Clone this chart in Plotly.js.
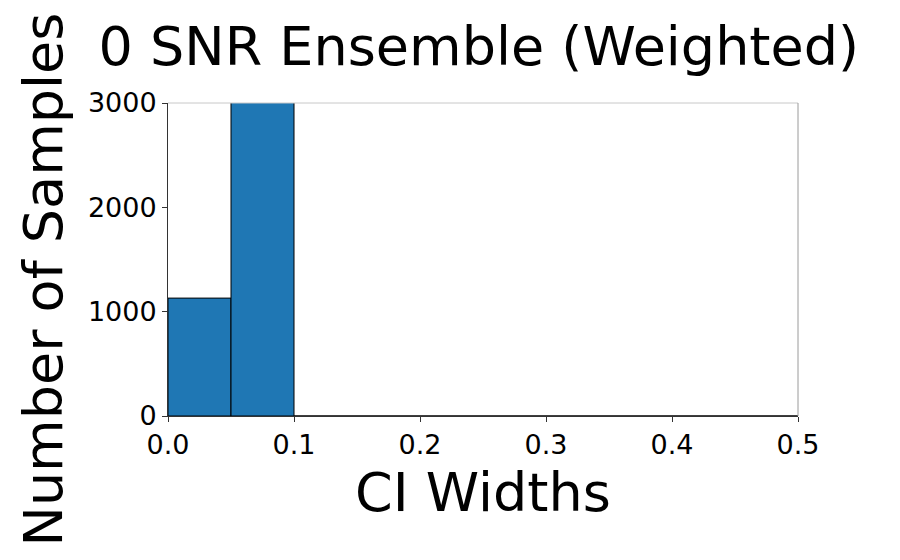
<!DOCTYPE html>
<html>
<head>
<meta charset="utf-8">
<script src="https://cdn.plot.ly/plotly-3.0.1.min.js"></script>
<style>html,body{margin:0;padding:0;background:#fff;}#chart{width:900px;height:560px;}</style>
</head>
<body>
<div id="chart"></div>
<script>
const binCenters = [0.025, 0.075, 0.125, 0.175, 0.225, 0.275, 0.325, 0.375, 0.425, 0.475];
const binCounts = [1130, 3600, 0, 0, 0, 0, 0, 0, 0, 0];
const xTicks = [0.0, 0.1, 0.2, 0.3, 0.4, 0.5];
const xTickLabels = ['0.0', '0.1', '0.2', '0.3', '0.4', '0.5'];
const yTicks = [0, 1000, 2000, 3000];
const yTickLabels = ['0', '1000', '2000', '3000'];

const font = 'DejaVu Sans, sans-serif';
const trace = {
  type: 'bar',
  x: binCenters,
  y: binCounts,
  width: 0.05,
  marker: {color: '#1f77b4', line: {color: '#000000', width: 1}},
  hoverinfo: 'skip'
};
const layout = {
  width: 900, height: 560,
  margin: {l: 168, r: 102, t: 103, b: 144},
  paper_bgcolor: '#fff', plot_bgcolor: '#fff',
  showlegend: false,
  bargap: 0,
  title: {text: '0 SNR Ensemble (Weighted)', font: {family: font, size: 54, color: '#000'},
          x: 0.532, xanchor: 'center', y: 0.917, yanchor: 'middle'},
  xaxis: {
    range: [0, 0.5], tickvals: xTicks, ticktext: xTickLabels,
    showgrid: false, zeroline: false,
    showline: true, linecolor: '#333', linewidth: 1,
    ticks: 'outside', ticklen: 5, tickcolor: '#333',
    tickfont: {family: font, size: 27, color: '#000'},
    title: {text: ''}
  },
  yaxis: {
    range: [0, 3000], tickvals: yTicks, ticktext: yTickLabels,
    showgrid: false, zeroline: false,
    showline: true, linecolor: '#333', linewidth: 1,
    ticks: 'outside', ticklen: 5, tickcolor: '#333',
    tickfont: {family: font, size: 27, color: '#000'},
    title: {text: ''}
  },
  shapes: [
    {type: 'line', xref: 'paper', yref: 'paper', x0: 0, x1: 1, y0: 1, y1: 1, line: {color: '#c8c8c8', width: 1}},
    {type: 'line', xref: 'paper', yref: 'paper', x0: 1, x1: 1, y0: 0, y1: 1, line: {color: '#9a9a9a', width: 1}}
  ],
  annotations: [
    {text: 'CI Widths', xref: 'paper', yref: 'paper', x: 0.5, y: 0, yshift: -76, yanchor: 'middle',
     showarrow: false, font: {family: font, size: 54, color: '#000'}},
    {text: 'Number of Samples', xref: 'paper', yref: 'paper', x: 0, xshift: -125, y: 0.5, yshift: -20, textangle: -90,
     xanchor: 'center', yanchor: 'middle', showarrow: false, font: {family: font, size: 54, color: '#000'}}
  ]
};
Plotly.newPlot('chart', [trace], layout, {staticPlot: true, displayModeBar: false});
</script>
</body>
</html>
